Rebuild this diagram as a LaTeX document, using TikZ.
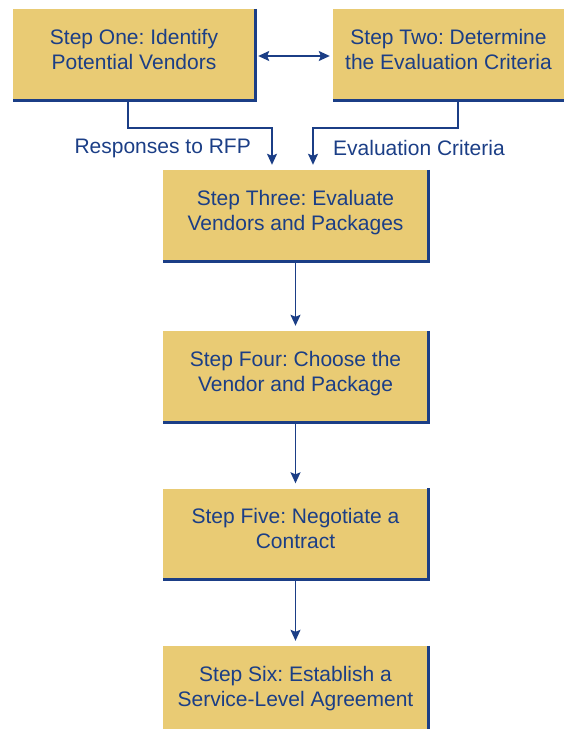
\documentclass[tikz,border=0pt]{standalone}
\usepackage{fontspec}
\setmainfont{Liberation Sans}
\usetikzlibrary{arrows.meta}
\definecolor{boxfill}{HTML}{E9CB74}
\definecolor{navy}{HTML}{1B3E86}
\newcommand\boxtxt[1]{\raisebox{3pt}[\height][\depth]{\begin{tabular}{@{}c@{}}#1\end{tabular}}}
\begin{document}
\frenchspacing
\begin{tikzpicture}[x=1pt,y=-1pt,
  box/.style={fill=boxfill, inner sep=0pt, text=navy,
    font=\fontsize{21}{25}\selectfont\frenchspacing, minimum height=91pt},
  edgeline/.style={draw=navy, line width=3pt},
  conn/.style={draw=navy, line width=1.4pt, -{Stealth[width=10pt,length=11pt,inset=2pt]}, shorten >=5pt},
  lbl/.style={text=navy, font=\fontsize{21}{25}\selectfont\frenchspacing, inner sep=0pt}]
\useasboundingbox (0,0) rectangle (564,729);
\clip (0,0) rectangle (564,729);

\node[box, minimum width=242pt] (b1) at (134,54.5) {\boxtxt{Step One: Identify\\Potential Vendors}};
\node[box, minimum width=231pt] (b2) at (448.5,54.5) {\boxtxt{Step Two: Determine\\the Evaluation Criteria}};
\node[box, minimum width=265pt] (b3) at (295.5,215.5) {\boxtxt{Step Three: Evaluate\\Vendors and Packages}};
\node[box, minimum width=265pt] (b4) at (295.5,376.5) {\boxtxt{Step Four: Choose the\\Vendor and Package}};
\node[box, minimum width=265pt] (b5) at (295.5,534) {\boxtxt{Step Five: Negotiate a\\Contract}};
\node[box, minimum width=265pt] (b6) at (295.5,691.5) {\boxtxt{Step Six: Establish a\\Service-Level Agreement}};

\foreach \b in {b1,b3,b4,b5,b6}{
  \draw[edgeline] (\b.north east) -- (\b.south east) -- (\b.south west);
}
\draw[edgeline] (b2.south east) -- (b2.south west);

\draw[conn, {Stealth[width=10pt,length=11pt,inset=2pt]}-{Stealth[width=10pt,length=11pt,inset=2pt]}, shorten <=3pt, shorten >=3pt]
  ([yshift=-1.5pt]b1.east) -- ([yshift=-1.5pt]b1.east -| b2.west);

\coordinate (j1) at (128,128);
\coordinate (j2) at (458,128);
\draw[conn] ([xshift=-6pt]b1.south) -- (j1) -| ([xshift=-23.5pt]b3.north);
\draw[conn] ([xshift=9.5pt]b2.south) -- (j2) -| ([xshift=17.5pt]b3.north);

\node[lbl, anchor=east] (l1) at (251,148) {Responses to RFP};
\node[lbl, anchor=west] (l2) at (333,148) {Evaluation Criteria};

\draw[conn] (b3) -- (b4);
\draw[conn] (b4) -- (b5);
\draw[conn] (b5) -- (b6);
\end{tikzpicture}
\end{document}
